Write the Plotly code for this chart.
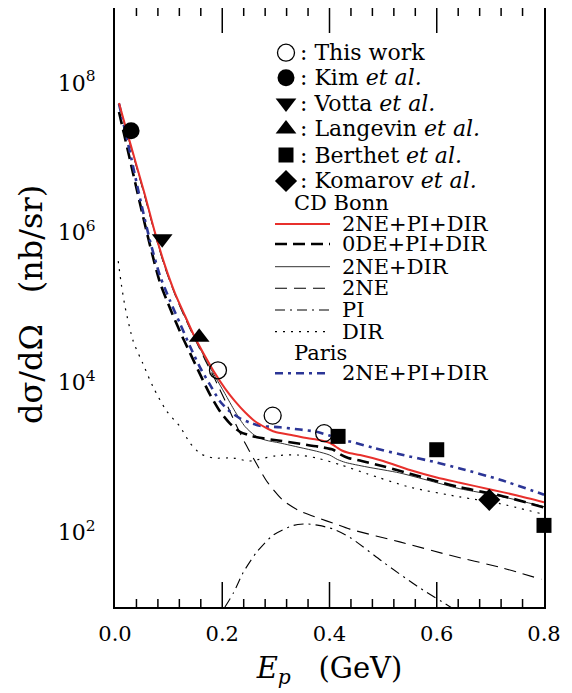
import plotly.graph_objects as go

# ---------------- data ----------------
# experimental points (E_p in GeV, dsigma/dOmega in nb/sr)
this_x = [0.192, 0.294, 0.390]
this_y = [1.45e4, 3.6e3, 2.1e3]
kim_x = [0.030]
kim_y = [2.3e7]
votta_x = [0.088]
votta_y = [8.3e5]
lang_x = [0.157]
lang_y = [4.0e4]
berthet_x = [0.416, 0.600, 0.800]
berthet_y = [1.9e3, 1.26e3, 1.23e2]
komarov_x = [0.698]
komarov_y = [2.7e2]

# CD Bonn 2NE+PI+DIR (log10 of dsigma/dOmega)
red_x = [0.0075, 0.0187, 0.0373, 0.056, 0.0746, 0.0933, 0.112, 0.1306, 0.149, 0.168, 0.1865, 0.205,
         0.224, 0.2425, 0.261, 0.280, 0.298, 0.326, 0.354, 0.373, 0.401, 0.412, 0.423, 0.435, 0.457,
         0.500, 0.550, 0.600, 0.643, 0.700, 0.750, 0.800]
red_ly = [7.73, 7.44, 6.97, 6.50, 6.00, 5.56, 5.19, 4.89, 4.60, 4.35, 4.12, 3.92,
          3.745, 3.60, 3.48, 3.40, 3.34, 3.30, 3.26, 3.24, 3.19, 3.14, 3.09, 3.06, 3.03,
          2.95, 2.83, 2.73, 2.66, 2.57, 2.49, 2.40]
# CD Bonn 0DE+PI+DIR
ode_x = [0.0075, 0.028, 0.0466, 0.0653, 0.084, 0.1026, 0.121, 0.140, 0.1585, 0.177, 0.196, 0.2145,
         0.233, 0.252, 0.270, 0.308, 0.345, 0.380, 0.407, 0.420, 0.435, 0.460, 0.500, 0.550, 0.600,
         0.643, 0.718, 0.800]
ode_ly = [7.61, 6.97, 6.39, 5.83, 5.33, 4.99, 4.68, 4.39, 4.11, 3.84, 3.61, 3.45,
          3.34, 3.29, 3.26, 3.22, 3.18, 3.14, 3.10, 3.04, 2.99, 2.95, 2.88, 2.78, 2.68,
          2.60, 2.49, 2.33]
# CD Bonn 2NE+DIR
nedir_x = [0.0075, 0.0187, 0.0373, 0.056, 0.0746, 0.0933, 0.112, 0.1306, 0.149, 0.168, 0.1865, 0.205,
           0.224, 0.2425, 0.261, 0.280, 0.308, 0.345, 0.376, 0.400, 0.415, 0.430, 0.470, 0.531, 0.600,
           0.643, 0.718, 0.800]
nedir_ly = [7.73, 7.43, 6.96, 6.48, 5.99, 5.54, 5.18, 4.87, 4.59, 4.32, 4.08, 3.85,
            3.61, 3.41, 3.29, 3.23, 3.19, 3.13, 3.08, 3.03, 2.97, 2.93, 2.87, 2.79, 2.66,
            2.58, 2.48, 2.34]
# CD Bonn 2NE
ne_x = [0.0075, 0.0187, 0.0373, 0.056, 0.0746, 0.0933, 0.112, 0.1306, 0.149, 0.168, 0.1865, 0.205,
        0.224, 0.2425, 0.261, 0.283, 0.314, 0.345, 0.382, 0.407, 0.438, 0.531, 0.625, 0.718, 0.795]
ne_ly = [7.72, 7.42, 6.95, 6.47, 5.98, 5.53, 5.17, 4.86, 4.58, 4.30, 4.04, 3.76,
         3.46, 3.19, 2.95, 2.68, 2.42, 2.28, 2.18, 2.12, 2.04, 1.87, 1.69, 1.53, 1.37]
# CD Bonn PI
pi_x = [0.205, 0.221, 0.239, 0.264, 0.295, 0.333, 0.357, 0.380, 0.407, 0.438, 0.500, 0.563, 0.630]
pi_ly = [1.00, 1.19, 1.46, 1.73, 1.96, 2.09, 2.11, 2.09, 2.04, 1.93, 1.60, 1.28, 0.98]
# CD Bonn DIR
dir_x = [0.006, 0.012, 0.019, 0.034, 0.052, 0.071, 0.096, 0.121, 0.140, 0.159, 0.183, 0.221,
         0.250, 0.300, 0.340, 0.376, 0.420, 0.470, 0.550, 0.643, 0.718, 0.793]
dir_ly = [5.62, 5.30, 5.00, 4.55, 4.25, 3.94, 3.62, 3.41, 3.19, 3.05, 2.99, 2.99,
          2.95, 3.02, 3.03, 2.99, 2.90, 2.78, 2.60, 2.47, 2.38, 2.25]
# Paris 2NE+PI+DIR
par_x = [0.0075, 0.028, 0.0466, 0.0653, 0.084, 0.1026, 0.121, 0.140, 0.1585, 0.177, 0.196, 0.2145,
         0.233, 0.252, 0.270, 0.308, 0.345, 0.376, 0.400, 0.425, 0.438, 0.480, 0.531, 0.600, 0.643,
         0.718, 0.800]
par_ly = [7.72, 7.07, 6.46, 5.89, 5.42, 5.09, 4.79, 4.48, 4.20, 3.97, 3.745, 3.61,
          3.52, 3.46, 3.42, 3.40, 3.37, 3.34, 3.29, 3.23, 3.21, 3.13, 3.04, 2.93, 2.85,
          2.70, 2.50]

legend_lines = ["2NE+PI+DIR", "0DE+PI+DIR", "2NE+DIR", "2NE", "PI", "DIR"]

# tick positions
x_major = [0.0, 0.2, 0.4, 0.6, 0.8]
x_minor = [0.04, 0.08, 0.12, 0.16, 0.24, 0.28, 0.32, 0.36, 0.44, 0.48, 0.52, 0.56, 0.64, 0.68, 0.72, 0.76]
y_major_exp = [2, 4, 6, 8]
y_minor_exp = [1, 3, 5, 7, 9]

# ---------------- styles ----------------
RED = "#e8302c"
BLUE = "#2b3596"
FONT = "DejaVu Serif"
XR = [0.0, 0.8]
YR = [1, 9]  # log10 range

def pw(v):
    return [10 ** a for a in v]

fig = go.Figure()

st_ne = dict(color="black", width=1.1, dash="12px,7px")
st_pi = dict(color="black", width=1.1, dash="10px,5px,2px,5px")
st_dir = dict(color="black", width=1.2, dash="2px,6px")
st_nedir = dict(color="#333333", width=1.0)
st_ode = dict(color="black", width=2.6, dash="12px,6px")
st_par = dict(color=BLUE, width=2.6, dash="8px,5px,3px,5px")
st_red = dict(color=RED, width=2.0)

curves = [
    (ne_x, ne_ly, st_ne), (pi_x, pi_ly, st_pi), (dir_x, dir_ly, st_dir), (nedir_x, nedir_ly, st_nedir),
    (ode_x, ode_ly, st_ode), (par_x, par_ly, st_par), (red_x, red_ly, st_red),
]
for xs, ly, ln in curves:
    fig.add_trace(go.Scatter(x=xs, y=pw(ly), mode="lines", line=dict(shape="spline", smoothing=0.7, **ln),
                             showlegend=False, hoverinfo="skip"))

msyms = [
    (this_x, this_y, dict(symbol="circle-open", size=17, color="black", line=dict(width=1.3, color="black"))),
    (kim_x, kim_y, dict(symbol="circle", size=17, color="black")),
    (votta_x, votta_y, dict(symbol="triangle-down", size=18, color="black")),
    (lang_x, lang_y, dict(symbol="triangle-up", size=18, color="black")),
    (berthet_x, berthet_y, dict(symbol="square", size=15, color="black")),
    (komarov_x, komarov_y, dict(symbol="diamond", size=17, color="black")),
]
for xs, ys, mk in msyms:
    fig.add_trace(go.Scatter(x=xs, y=ys, mode="markers", marker=mk, showlegend=False, hoverinfo="skip",
                             cliponaxis=False))

# ---------------- hand-made legend (positions given as fractions of the plot area) ----------------
PX0, PX1, PY0, PY1 = 115, 544, 8, 607
PW, PH = PX1 - PX0, PY1 - PY0
def fx(px):
    return (px - PX0) / PW
def fy(py):
    return (PY1 - py) / PH
def dx(px):
    return XR[0] + (XR[1] - XR[0]) * fx(px)
def dy(py):
    return 10 ** (YR[0] + (YR[1] - YR[0]) * fy(py))

def label(px, py, tx, size=22):
    fig.add_annotation(x=fx(px), y=fy(py), xref="paper", yref="paper", text=tx, showarrow=False,
                       xanchor="left", yanchor="middle", font=dict(family=FONT, size=size, color="black"))

mrow = [52.7, 77.7, 103, 129, 155, 181]
mtext = [": This work", ": Kim <i>et al.</i>", ": Votta <i>et al.</i>", ": Langevin <i>et al.</i>",
         ": Berthet <i>et al.</i>", ": Komarov <i>et al.</i>"]
for (xs, ys, mk), py, tx in zip(msyms, mrow, mtext):
    fig.add_trace(go.Scatter(x=[dx(286)], y=[dy(py)], mode="markers",
                             marker=mk, showlegend=False, hoverinfo="skip"))
    label(298, py, tx)

lrow = [224, 244, 266.7, 288.3, 310, 331.7]
lstyles = [st_red, st_ode, st_nedir, st_ne, st_pi, st_dir]
for py, ln, tx in zip(lrow, lstyles, legend_lines):
    fig.add_trace(go.Scatter(x=[dx(275), dx(330)], y=[dy(py), dy(py)],
                             mode="lines", line=ln, showlegend=False, hoverinfo="skip"))
    label(340, py, tx, size=21)
fig.add_trace(go.Scatter(x=[dx(275), dx(330)], y=[dy(373.3)] * 2,
                         mode="lines", line=st_par, showlegend=False, hoverinfo="skip"))
label(340, 373.3, "2NE+PI+DIR", size=21)
label(292, 203.3, "CD Bonn", size=21)
label(292, 353.3, "Paris", size=21)

# y-axis title placed beside the axis
fig.add_annotation(x=fx(31), y=fy(305), xref="paper", yref="paper", text="dσ/dΩ\u00a0\u00a0\u00a0(nb/sr)",
                   showarrow=False, textangle=-90, xanchor="center", yanchor="middle",
                   font=dict(family=FONT, size=32, color="black"))

# ---------------- inward ticks on all four sides ----------------
TKL = dict(color="black", width=1.5)
def xtick(v, length):
    for y0, y1 in [(0, length / PH), (1, 1 - length / PH)]:
        fig.add_shape(type="line", xref="x", yref="y domain", x0=v, x1=v, y0=y0, y1=y1, line=TKL, layer="above")
def ytick(e, length):
    for x0, x1 in [(0, length / PW), (1, 1 - length / PW)]:
        fig.add_shape(type="line", xref="x domain", yref="y", x0=x0, x1=x1, y0=e, y1=e, line=TKL, layer="above")
for v in x_major[1:-1]:
    xtick(v, 25)
for v in x_minor:
    xtick(v, 8)
for e in y_major_exp:
    ytick(e, 26)
for e in y_minor_exp[:-1]:
    ytick(e, 10)

fig.update_layout(
    # the page body adds an 8px offset, so the figure is 8px smaller and margins compensate
    width=564, height=685,
    margin=dict(l=107, r=28, t=0, b=86),
    paper_bgcolor="white", plot_bgcolor="white",
    font=dict(family=FONT, size=20, color="black"),
    xaxis=dict(range=XR, tickmode="array", tickvals=x_major, ticktext=["%.1f" % v for v in x_major],
               automargin=False, ticks="",
               showline=True, linewidth=2, linecolor="black", mirror=True, showgrid=False, zeroline=False,
               tickfont=dict(family=FONT, size=21), ticklabelstandoff=7,
               title=dict(text="<i>E</i><sub><i>p</i></sub>\u00a0\u00a0\u00a0(GeV)",
                          font=dict(family=FONT, size=29), standoff=12)),
    yaxis=dict(type="log", range=YR, tickmode="array", tickvals=[10 ** e for e in y_major_exp],
               ticktext=["10<sup>%d</sup>" % e for e in y_major_exp],
               automargin=False, ticks="",
               showline=True, linewidth=2, linecolor="black", mirror=True, showgrid=False, zeroline=False,
               tickfont=dict(family=FONT, size=22), ticklabelstandoff=13),
)

fig.write_html("out.html")
